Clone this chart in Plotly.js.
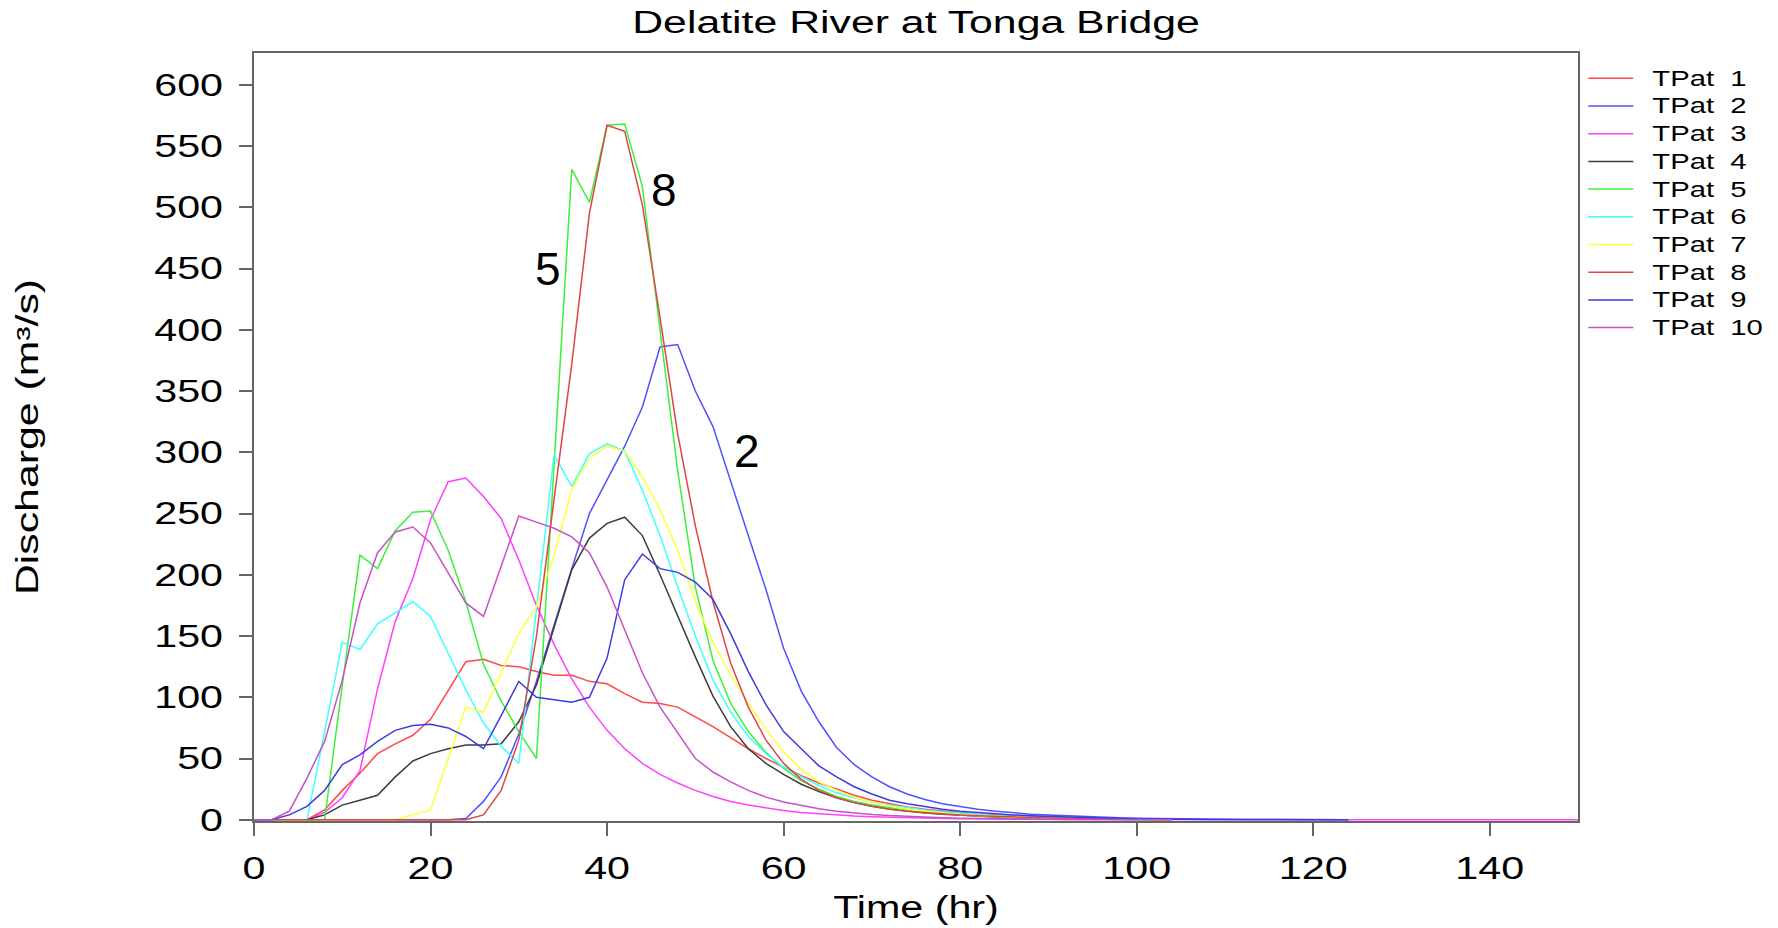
<!DOCTYPE html>
<html>
<head>
<meta charset="utf-8">
<script src="https://cdn.plot.ly/plotly-3.0.1.min.js"></script>
<style>
html, body { margin: 0; padding: 0; background: #ffffff; }
#chart { width: 1778px; height: 928px; }
.legendtext { font-size: 22px !important; }
</style>
</head>
<body>
<div id="chart"></div>
<script>
// ---- data ----
const timeHr = [0,2,4,6,8,10,12,14,16,18,20,22,24,26,28,30,32,34,36,38,40,42,44,46,48,50,
  52,54,56,58,60,62,64,66,68,70,72,74,76,78,80,82,84,86,88,90,92,94,96,98,100,102,104,
  106,108,110,112,114,116,118,120,122,124,126,128,130,132,134,136,138,140,142,144,146,148,150];

const seriesNames = ['TPat\u00a0\u00a01','TPat\u00a0\u00a02','TPat\u00a0\u00a03','TPat\u00a0\u00a04','TPat\u00a0\u00a05',
  'TPat\u00a0\u00a06','TPat\u00a0\u00a07','TPat\u00a0\u00a08','TPat\u00a0\u00a09','TPat\u00a0\u00a010'];

const tpat1 = [0,0,0,0,8,24,38,54,62,69,82,106,129,131,126,125,121,118,118,113,111,103,96,95,92,84,
  76,67,58,50,43,36,30,25,20,16,13,10.5,8.5,7,5.7,4.6,3.8,3.1,2.5,2,1.6,1.3,1,0.8,0.6,0.4,0.2];
const tpat2 = [0,0,0,0,0,0,0,0,0,0,0,0,1,15,35,70,113,160,205,250,277,305,337,386,388,350,
  321,276,232,188,140,105,80,59,45,35,27,21,16.5,13,10.5,8.5,7,5.7,4.6,3.8,3.1,2.5,2,1.6,1.3,1,0.8,
  0.6,0.5,0.4,0.3,0.25,0.2,0.15,0.1,0.05,0];
const tpat3 = [0,0,0,0,6,18,40,107,162,197,245,276,279,264,246,212,175,143,115,92,73,58,46,37,30,24,
  19,15,12,9.5,7.5,6,4.8,3.8,3,2.4,1.9,1.5,1.2,1,0.8,0.6,0.5,0.4,0.3,0.25,0.2,0.15,0.1,0.08,0.05,0.03,0,
  0,0,0,0,0,0,0,0,0,0,0,0,0,0,0,0,0,0,0,0,0,0,0];
const tpat4 = [0,0,0,0,4,12,16,20,35,48,54,58,61,61,62,80,110,157,204,230,242,247,232,200,166,133,
  101,76,58,46,37,29,23,18,14,11,8.7,7,5.6,4.5,3.6,2.9,2.3,1.8,1.4,1.1,0.9,0.7,0.5,0.4,0.3,0.2,0.1];
const tpat5 = [0,0,0,0,0,110,216,205,236,251,252,220,178,127,97,72,50,290,531,504,567,568,517,400,285,190,
  130,95,72,55,42,32,25,19,15,12,9.5,7.5,6,4.8,3.8,3,2.4,1.9,1.5,1.2,0.9,0.7,0.5,0.4,0.3,0.2,0.1];
const tpat6 = [0,0,0,0,72,145,139,160,169,178,166,136,106,79,60,46,172,298,272,299,307,301,269,232,190,150,
  114,88,68,54,43,35,28,22,18,14.5,12,9.7,8,6.5,5.3,4.3,3.5,2.8,2.3,1.8,1.4,1.1,0.9,0.7,0.5,0.3,0.1];
const tpat7 = [0,0,0,0,0,0,0,0,0,4,8,50,92,88,120,152,174,216,270,295,305,301,280,253,220,178,
  145,118,95,74,55,41,31,24,18.5,14.5,11.3,8.8,7,5.5,4.4,3.5,2.8,2.2,1.7,1.3,1,0.8,0.6,0.4,0.3,0.2,0.1];
const tpat8 = [0,0,0,0,0,0,0,0,0,0,0,0,0,4,24,65,150,262,372,495,567,562,502,410,315,240,
  178,128,92,65,46,33,24,18,14,11,8.5,7,5.8,4.8,4,3.3,2.7,2.2,1.8,1.5,1.2,1,0.8,0.6,0.4,0.2,0.1];
const tpat9 = [0,0,4,11,24,45,53,64,73,77,78,75,68,58,85,113,100,98,96,100,132,196,217,205,202,194,
  180,152,121,94,72,58,44,35,27,21,16,13,10.5,8.5,7,5.8,4.8,4,3.3,2.7,2.2,1.8,1.4,1.1,0.8,0.6,0.5,
  0.4,0.3,0.25,0.2,0.15,0.1,0.08,0.05,0.02,0];
const tpat10 = [0,0,7,34,64,114,177,218,235,239,226,201,177,166,207,248,243,238,231,218,190,155,120,92,71,50,
  39,31,24,18.5,14.5,11.5,9,7,5.5,4.3,3.4,2.7,2.1,1.7,1.3,1,0.8,0.6,0.5,0.4,0.3,0.2,0.15,0.1,0.05,0,0];

const seriesValues = [tpat1, tpat2, tpat3, tpat4, tpat5, tpat6, tpat7, tpat8, tpat9, tpat10];

const xTickVals = [0,20,40,60,80,100,120,140];
const yTickVals = [0,50,100,150,200,250,300,350,400,450,500,550,600];

const peakLabels = ['5','8','2'];
const peakLabelTime = [33.3, 46.5, 55.9];
const peakLabelFlow = [450, 514, 301];

// ---- styles ----
const lineColors = ['#ff4848','#5050ff','#ff40ff','#3c3c3c','#3cf03c','#40ffff','#ffff38','#dc4646','#3c3ce0','#c850c8'];
const FONT = '"Liberation Sans", Arial, Helvetica, sans-serif';
const AXIS_GRAY = '#666666';
const STRETCH = 1.33;
const TITLE_STRETCH = 1.38;

const traces = seriesValues.map((vals, i) => ({
  type: 'scatter',
  mode: 'lines',
  name: seriesNames[i],
  x: timeHr.slice(0, vals.length),
  y: vals,
  line: { color: lineColors[i], width: 1.5 }
}));

const annotations = peakLabels.map((txt, i) => ({
  x: peakLabelTime[i], y: peakLabelFlow[i], xref: 'x', yref: 'y',
  text: txt, showarrow: false, xanchor: 'center', yanchor: 'middle',
  font: { family: FONT, size: 46, color: '#000' }
}));

const layout = {
  width: 1778, height: 928,
  margin: { l: 254, r: 200, t: 53, b: 107 },
  paper_bgcolor: '#ffffff', plot_bgcolor: '#ffffff',
  font: { family: FONT, color: '#000' },
  title: { text: 'Delatite River at Tonga Bridge', font: { family: FONT, size: 31, color: '#000' },
           x: 0.5, xref: 'paper', xanchor: 'center', y: 0.976, yref: 'container', yanchor: 'middle' },
  xaxis: {
    range: [0, 150], tickmode: 'array', tickvals: xTickVals,
    ticks: 'outside', ticklen: 13, tickwidth: 1.5, tickcolor: AXIS_GRAY,
    showline: true, linecolor: AXIS_GRAY, linewidth: 1.5, mirror: true,
    showgrid: false, zeroline: false,
    tickfont: { family: FONT, size: 31, color: '#000' }, ticklabelstandoff: 6,
    title: { text: 'Time (hr)', font: { family: FONT, size: 31, color: '#000' }, standoff: 11 }
  },
  yaxis: {
    range: [-1, 626], tickmode: 'array', tickvals: yTickVals,
    ticks: 'outside', ticklen: 13, tickwidth: 1.5, tickcolor: AXIS_GRAY,
    showline: true, linecolor: AXIS_GRAY, linewidth: 1.5, mirror: true,
    showgrid: false, zeroline: false,
    tickfont: { family: FONT, size: 31, color: '#000' }, ticklabelstandoff: 10,
    title: { text: 'Discharge (m³/s)', font: { family: FONT, size: 31, color: '#000' }, standoff: 123 }
  },
  showlegend: true,
  legend: {
    x: 1.004, xanchor: 'left', y: 0.9916, yanchor: 'top',
    font: { family: FONT, size: 19, color: '#000' },
    itemwidth: 45, bgcolor: 'rgba(0,0,0,0)', borderwidth: 0, tracegroupgap: 0
  },
  annotations: annotations
};

function stretchOne(t, k) {
  const L = t.getComputedTextLength();
  if (L > 0) {
    t.setAttribute('textLength', (L * k).toFixed(2));
    t.setAttribute('lengthAdjust', 'spacingAndGlyphs');
  }
}

function finishTexts(gd) {
  gd.querySelectorAll('g.xtick text, g.ytick text, text.xtitle').forEach(t => stretchOne(t, STRETCH));
  gd.querySelectorAll('text.gtitle, text.ytitle').forEach(t => stretchOne(t, TITLE_STRETCH));
  gd.querySelectorAll('text.legendtext').forEach(t => {
    stretchOne(t, STRETCH);
    const x0 = parseFloat(t.getAttribute('x') || '0');
    t.setAttribute('x', (x0 + 14).toFixed(1));
  });
  gd.querySelectorAll('.legend [clip-path]').forEach(e => e.removeAttribute('clip-path'));
}

Plotly.newPlot('chart', traces, layout, { displayModeBar: false, responsive: false })
  .then(gd => finishTexts(gd));
</script>
</body>
</html>
